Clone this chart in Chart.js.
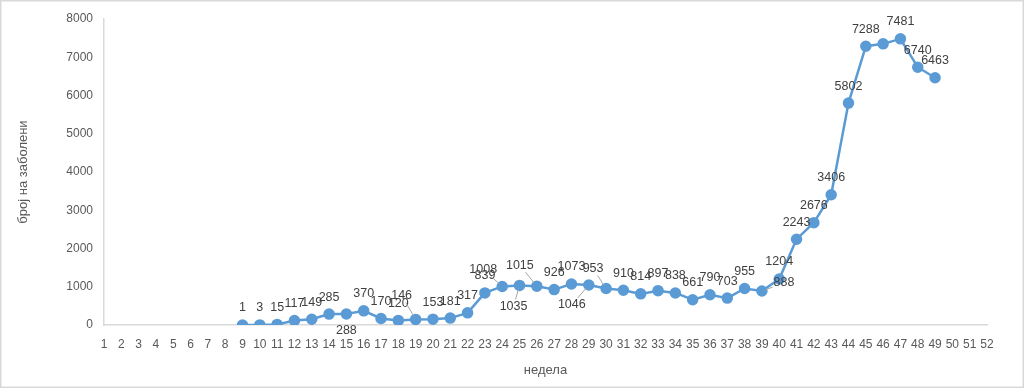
<!DOCTYPE html>
<html>
<head>
<meta charset="utf-8">
<title>број на заболени по недела</title>
<script src="https://cdn.jsdelivr.net/npm/chart.js"></script>
<style>
  html, body { margin: 0; padding: 0; background: #fff; }
  .chart-container { width: 1024px; height: 388px; position: relative; }
</style>
</head>
<body>
<div class="chart-container"><canvas id="lineChart"></canvas></div>
<script>
  // x axis categories (weeks of the year)
  const weeks = ['1','2','3','4','5','6','7','8','9','10','11','12','13','14','15','16','17','18',
                 '19','20','21','22','23','24','25','26','27','28','29','30','31','32','33','34','35',
                 '36','37','38','39','40','41','42','43','44','45','46','47','48','49','50','51','52'];

  // weeks that have a value, and the number of cases for each
  const caseWeeks = [9,10,11,12,13,14,15,16,17,18,19,20,21,22,23,24,25,26,27,28,29,30,31,32,33,
                     34,35,36,37,38,39,40,41,42,43,44,45,46,47,48,49];
  const caseCounts = [1,3,15,117,149,285,288,370,170,120,146,153,181,317,839,1008,1035,1015,926,1073,
                      1046,953,910,814,897,838,661,790,703,955,888,1204,2243,2676,3406,5802,7288,7350,
                      7481,6740,6463];

  const yTicks = [0,1000,2000,3000,4000,5000,6000,7000,8000];

  // the one point the original chart leaves without a label
  const unlabeledWeeks = [46];

  // label placement that differs from "centred above the point": [dx, dy, leader line]
  const labelPlacement = {
    15: [0, 17, false],
    19: [-14, -24, true],
    24: [-19, -17, true],
    25: [-6, 21, true],
    26: [-17, -21, true],
    29: [-17, 20, true],
    30: [-13, -20, true],
    39: [22, -8, true]
  };

  const seriesData = weeks.map(w => {
    const i = caseWeeks.indexOf(+w);
    return i >= 0 ? caseCounts[i] : null;
  });

  const FONT = '"Liberation Sans", Arial, sans-serif';

  const pointLabels = {
    id: 'pointLabels',
    afterDatasetsDraw(chart) {
      const ctx = chart.ctx;
      const meta = chart.getDatasetMeta(0);
      const values = chart.data.datasets[0].data;
      ctx.save();
      ctx.font = '12.5px ' + FONT;
      ctx.textAlign = 'center';
      ctx.textBaseline = 'middle';
      meta.data.forEach((pt, i) => {
        const v = values[i];
        if (v == null) return;
        const week = +weeks[i];
        if (unlabeledWeeks.includes(week)) return;
        const place = labelPlacement[week] || [0, -17, false];
        const lx = pt.x + place[0], ly = pt.y + place[1];
        const text = String(v);
        if (place[2]) {
          const hw = ctx.measureText(text).width / 2 + 1, hh = 7;
          const dx = pt.x - lx, dy = pt.y - ly;
          const len = Math.hypot(dx, dy);
          const t = Math.min(dx ? hw / Math.abs(dx) : Infinity, dy ? hh / Math.abs(dy) : Infinity);
          const sx = lx + dx * t, sy = ly + dy * t;
          const ex = pt.x - dx / len * 4, ey = pt.y - dy / len * 4;
          ctx.strokeStyle = '#a6a6a6';
          ctx.lineWidth = 1;
          ctx.beginPath();
          ctx.moveTo(sx, sy);
          ctx.lineTo(ex, ey);
          ctx.stroke();
        }
        ctx.fillStyle = '#404040';
        ctx.fillText(text, lx, ly);
      });
      ctx.restore();
    }
  };

  const frame = {
    id: 'frame',
    afterDraw(chart) {
      const ctx = chart.ctx;
      ctx.save();
      ctx.strokeStyle = '#d9d9d9';
      ctx.lineWidth = 1.5;
      ctx.strokeRect(0.75, 0.75, chart.width - 1.5, chart.height - 1.5);
      ctx.restore();
    }
  };

  new Chart(document.getElementById('lineChart'), {
    type: 'line',
    data: {
      labels: weeks,
      datasets: [{
        data: seriesData,
        borderColor: '#5b9bd5',
        backgroundColor: '#5b9bd5',
        borderWidth: 2.5,
        pointRadius: 4.5,
        pointBackgroundColor: '#5b9bd5',
        pointBorderColor: '#5b9bd5',
        tension: 0,
        spanGaps: false
      }]
    },
    options: {
      responsive: true,
      maintainAspectRatio: false,
      animation: false,
      layout: { padding: { left: 0, right: 37, top: 19, bottom: 0 } },
      plugins: {
        legend: { display: false },
        tooltip: { enabled: false }
      },
      scales: {
        x: {
          offset: false,
          grid: { display: false },
          border: { display: true, color: '#d9d9d9', width: 1.5 },
          ticks: {
            autoSkip: false, maxRotation: 0, padding: 4,
            color: '#595959', font: { family: FONT, size: 12 }
          },
          title: {
            display: true, text: 'недела', color: '#595959',
            font: { family: FONT, size: 13 }, padding: { top: 4, bottom: 10 }
          },
          afterFit(scale) { scale.height = 63; }
        },
        y: {
          min: 0, max: 8000,
          afterBuildTicks(scale) { scale.ticks = yTicks.map(v => ({ value: v })); },
          grid: { display: false },
          border: { display: true, color: '#d9d9d9', width: 1.5 },
          ticks: {
            padding: 3, color: '#595959', font: { family: FONT, size: 12 },
            callback: v => String(v)
          },
          title: {
            display: true, text: 'број на заболени', color: '#595959',
            font: { family: FONT, size: 13 }, padding: { top: 16, bottom: 4 }
          },
          afterFit(scale) { scale.width = 104; }
        }
      }
    },
    plugins: [pointLabels, frame]
  });
</script>
</body>
</html>
